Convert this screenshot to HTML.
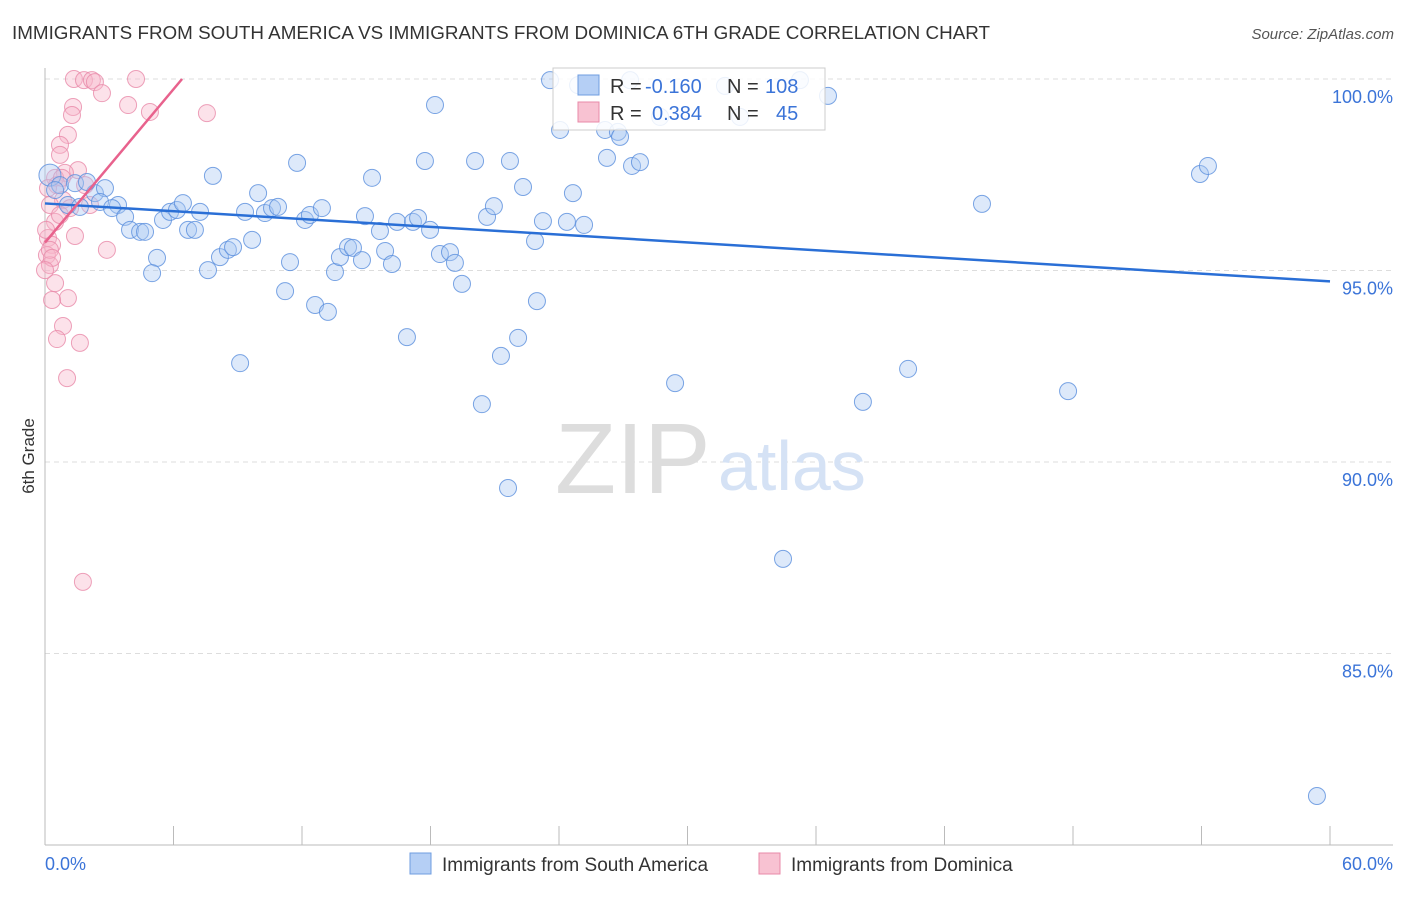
<!DOCTYPE html>
<html><head><meta charset="utf-8"><style>
body{margin:0;background:#fff;font-family:"Liberation Sans",sans-serif}
svg text{font-family:"Liberation Sans",sans-serif}
</style></head><body>
<svg width="1406" height="892" xmlns="http://www.w3.org/2000/svg">
<text x="12" y="39" font-size="18" fill="#333" textLength="978" lengthAdjust="spacingAndGlyphs">IMMIGRANTS FROM SOUTH AMERICA VS IMMIGRANTS FROM DOMINICA 6TH GRADE CORRELATION CHART</text>
<text x="1394" y="39" font-size="15" fill="#555" font-style="italic" text-anchor="end">Source: ZipAtlas.com</text>
<g id="grid"></g>
<line x1="45" y1="68" x2="45" y2="845" stroke="#bbb"/>
<line x1="45" y1="845" x2="1393" y2="845" stroke="#bbb"/>
<g id="xt"></g>
<text x="34" y="456" font-size="17" fill="#333" transform="rotate(-90 34 456)" text-anchor="middle">6th Grade</text>
<text x="45" y="870" font-size="18" fill="#3b74d8">0.0%</text>
<text x="1393" y="870" font-size="18" fill="#3b74d8" text-anchor="end">60.0%</text>
<text x="555" y="493" font-size="100" fill="#ddd" font-family="Liberation Serif">ZIP</text>
<text x="718" y="490" font-size="70" fill="#d5e2f5">atlas</text>
<g id="pts"></g>
<g id="lines"></g>
<g>
<rect x="553" y="68" width="272" height="62" fill="#fff" fill-opacity="0.85" stroke="#ccc"/>
<rect x="578" y="75" width="21" height="20" fill="#b5cff5" stroke="#6f9de0"/>
<rect x="578" y="102" width="21" height="20" fill="#f8c2d2" stroke="#e88aa8"/>
<text x="610" y="93" font-size="20" fill="#333">R =</text>
<text x="645" y="93" font-size="20" fill="#3b74d8">-0.160</text>
<text x="727" y="93" font-size="20" fill="#333">N =</text>
<text x="765" y="93" font-size="20" fill="#3b74d8">108</text>
<text x="610" y="120" font-size="20" fill="#333">R =</text>
<text x="652" y="120" font-size="20" fill="#3b74d8">0.384</text>
<text x="727" y="120" font-size="20" fill="#333">N =</text>
<text x="776" y="120" font-size="20" fill="#3b74d8">45</text>
</g>
<g>
<rect x="410" y="853" width="21" height="21" fill="#b5cff5" stroke="#6f9de0"/>
<text x="442" y="871" font-size="19" fill="#333">Immigrants from South America</text>
<rect x="759" y="853" width="21" height="21" fill="#f8c2d2" stroke="#e88aa8"/>
<text x="791" y="871" font-size="19" fill="#333">Immigrants from Dominica</text>
</g>
</svg>
<script>
const yTicks=[100,95,90,85];
const xTicks=[0,6,12,18,24,30,36,42,48,54,60];
const bluePx=[[50,175],[60,185],[55,190],[75,183],[95,193],[105,188],[87,182],[68,205],[80,207],[100,202],[118,205],[112,208],[125,217],[130,230],[140,232],[145,232],[157,258],[152,273],[163,220],[170,212],[177,210],[183,203],[188,230],[195,230],[200,212],[208,270],[213,176],[220,257],[228,250],[233,247],[240,363],[252,240],[245,212],[258,193],[265,213],[272,208],[278,207],[285,291],[290,262],[297,163],[305,220],[310,215],[315,305],[322,208],[328,312],[335,272],[340,257],[348,247],[353,248],[362,260],[365,216],[372,178],[380,231],[385,251],[392,264],[397,222],[407,337],[413,222],[418,218],[425,161],[430,230],[435,105],[440,254],[450,252],[455,263],[462,284],[475,161],[482,404],[487,217],[494,206],[501,356],[508,488],[510,161],[518,338],[523,187],[535,241],[537,301],[543,221],[550,80],[560,130],[567,222],[573,193],[584,225],[605,130],[607,158],[618,132],[620,137],[630,80],[632,166],[640,162],[675,383],[725,86],[740,117],[783,559],[800,80],[828,96],[863,402],[908,369],[982,204],[1068,391],[1200,174],[1208,166],[1317,796],[660,117],[578,85]];
const pinkPx=[[74,79],[84,80],[92,80],[95,82],[102,93],[136,79],[128,105],[150,112],[207,113],[73,107],[72,115],[68,135],[60,145],[60,155],[78,170],[65,173],[55,178],[57,185],[63,200],[70,208],[50,205],[55,222],[75,236],[48,238],[52,245],[107,250],[47,255],[50,265],[55,283],[68,298],[52,300],[63,326],[57,339],[80,343],[67,378],[83,582],[48,188],[62,178],[90,205],[50,250],[46,230],[60,215],[85,185],[52,258],[45,270]];
const blueX=bluePx.map(p=>+((p[0]-45)/1285*60).toFixed(2));
const blueY=bluePx.map(p=>+(100-(p[1]-79)/38.3).toFixed(2));
const pinkX=pinkPx.map(p=>+((p[0]-45)/1285*60).toFixed(2));
const pinkY=pinkPx.map(p=>+(100-(p[1]-79)/38.3).toFixed(2));
const blueTrend=[[0,96.751],[60,94.715]];
const pinkTrend=[[0,95.73],[6.4,100]];
const sx=v=>45+v/60*1285, sy=v=>79+(100-v)*38.3;
const NS="http://www.w3.org/2000/svg";
const grid=document.getElementById('grid');
yTicks.forEach(t=>{
 const l=document.createElementNS(NS,'line');
 l.setAttribute('x1',45);l.setAttribute('x2',1393);l.setAttribute('y1',sy(t));l.setAttribute('y2',sy(t));
 l.setAttribute('stroke','#ddd');l.setAttribute('stroke-dasharray','5,4');
 
 
 grid.appendChild(l);
 const tx=document.createElementNS(NS,'text');
 tx.setAttribute('x',1393);tx.setAttribute('y',sy(t)+24);tx.setAttribute('text-anchor','end');
 tx.setAttribute('font-size','18');tx.setAttribute('fill','#3b74d8');tx.textContent=t.toFixed(1)+'%';
 
 
 grid.appendChild(tx);
});
const xt=document.getElementById('xt');
xTicks.forEach(t=>{
 const l=document.createElementNS(NS,'line');
 l.setAttribute('x1',sx(t));l.setAttribute('x2',sx(t));l.setAttribute('y1',826);l.setAttribute('y2',845);
 l.setAttribute('stroke','#bbb');
 
 
 xt.appendChild(l);
});
const pts=document.getElementById('pts');
function dot(x,y,fill,stroke,name,r){
 const c=document.createElementNS(NS,'circle');
 c.setAttribute('cx',sx(x));c.setAttribute('cy',sy(y));c.setAttribute('r',r||8.5);
 c.setAttribute('fill',fill);c.setAttribute('fill-opacity','0.4');c.setAttribute('stroke',stroke);c.setAttribute('stroke-opacity','0.8');c.setAttribute('stroke-width','1');
 
 
 pts.appendChild(c);
}
pinkX.forEach((x,i)=>dot(x,pinkY[i],'#f7b6ca','#e98aa9','pink-point'));
blueX.forEach((x,i)=>dot(x,blueY[i],'#a9c8f2','#5a8fdd','blue-point',i===0?11:8.5));
const lines=document.getElementById('lines');
function ln(a,col,name){
 const l=document.createElementNS(NS,'line');
 l.setAttribute('x1',sx(a[0][0]));l.setAttribute('y1',sy(a[0][1]));l.setAttribute('x2',sx(a[1][0]));l.setAttribute('y2',sy(a[1][1]));
 l.setAttribute('stroke',col);l.setAttribute('stroke-width','2.5');
 
 
 lines.appendChild(l);
}
ln(blueTrend,'#2a6fd6','blue-trendline');
ln(pinkTrend,'#e8628d','pink-trendline');
</script>
</body></html>
